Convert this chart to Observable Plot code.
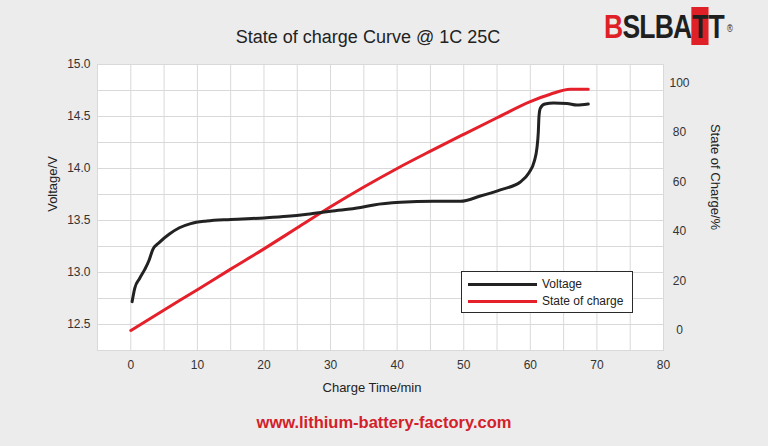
<!DOCTYPE html>
<html>
<head>
<meta charset="utf-8">
<script src="https://cdn.jsdelivr.net/npm/d3@7"></script>
<script src="https://cdn.jsdelivr.net/npm/@observablehq/plot@0.6"></script>
<style>
  html, body { margin: 0; padding: 0; background: #ececec; }
  #wrap { position: relative; width: 768px; height: 446px; overflow: hidden; background: #ececec;
          font-family: "Liberation Sans", Arial, sans-serif; color: #2a2a2a; }
  #chart { position: absolute; left: 0; top: 0; }
  .abs { position: absolute; white-space: nowrap; }
  #title { left: 368px; top: 37px; transform: translate(-50%, -50%); font-size: 18px; color: #222; }
  #xlab { left: 372px; top: 387px; transform: translate(-50%, -50%); font-size: 13px; color: #222; }
  #ylab { left: 52px; top: 184px; transform: translate(-50%, -50%) rotate(-90deg); font-size: 13px; color: #222; }
  #y2lab { left: 715px; top: 177px; transform: translate(-50%, -50%) rotate(90deg); font-size: 13px; color: #222; }
  #footer { left: 384px; top: 422px; transform: translate(-50%, -50%); font-size: 16.5px; font-weight: bold; color: #d42029; }
  #legend { left: 461px; top: 271px; width: 170px; height: 40px; background: #fff; border: 1.5px solid #2a2a2a; }
  .lg-line { position: absolute; left: 6px; width: 69px; height: 3px; }
  .lg-text { position: absolute; left: 80px; font-size: 12px; color: #222; line-height: 14px; }
  #logo { left: 604px; top: 8px; font-family: "Liberation Sans", Arial, sans-serif;
          font-weight: bold; font-size: 34px; line-height: 36px; letter-spacing: -1px; color: #1f1f1f;
          transform: scaleX(0.78); transform-origin: 0 0; }
  #logo .r { color: #e02027; }
  #logo .box { background: #e02027; color: #1f1f1f; padding: 0 1px; }
  #logo sup { font-size: 10px; font-weight: normal; vertical-align: top; position: relative; top: 3px; margin-left: 4px; }
</style>
</head>
<body>
<div id="wrap">
  <div id="chart"></div>
  <div id="title" class="abs">State of charge Curve @ 1C 25C</div>
  <div id="logo" class="abs"><span class="r">B</span>SLBA<span class="box">T</span>T<sup>®</sup></div>
  <div id="xlab" class="abs">Charge Time/min</div>
  <div id="ylab" class="abs">Voltage/V</div>
  <div id="y2lab" class="abs">State of Charge/%</div>
  <div id="legend" class="abs">
    <div class="lg-line" style="top:11px;background:#222;"></div>
    <div class="lg-text" style="top:5px;">Voltage</div>
    <div class="lg-line" style="top:28px;background:#e5202b;"></div>
    <div class="lg-text" style="top:22px;">State of charge</div>
  </div>
  <div id="footer" class="abs">www.lithium-battery-factory.com</div>
</div>
<script>
// ---- Data ----
const voltTime = [0.2, 0.6, 1.3, 2.1, 2.7, 3.3, 4.3, 5.8, 7.3, 9.0, 11.4, 15, 20, 23.5, 26.5, 30, 34.5, 36.5, 40.5, 45.5, 49.5, 52.5, 55.5, 58.5, 59.8, 60.6, 61.0, 61.2, 61.3, 61.5, 62.2, 63.5, 65.5, 67, 68.7];
const voltValue = [12.72, 12.85, 12.94, 13.03, 13.11, 13.22, 13.29, 13.37, 13.43, 13.47, 13.495, 13.51, 13.525, 13.54, 13.56, 13.59, 13.625, 13.65, 13.675, 13.685, 13.685, 13.735, 13.795, 13.87, 13.96, 14.07, 14.2, 14.35, 14.5, 14.58, 14.62, 14.63, 14.625, 14.61, 14.62];
const socTime = [0, 5, 10, 15, 20, 25, 30, 35, 40, 45, 50, 55, 60, 63, 66, 68.7];
const socValue = [0, 8.3, 16.5, 24.8, 33, 41.5, 50, 58, 65.5, 72.5, 79.3, 86, 92.5, 95.5, 97.5, 97.5];
const xTicks = [0, 10, 20, 30, 40, 50, 60, 70, 80];
const yTicks = [12.5, 13.0, 13.5, 14.0, 14.5, 15.0];
const socTicks = [0, 20, 40, 60, 80, 100];

// Right axis (SOC %) shares the plot with the voltage axis through a linear mapping
const socBase = 12.4423, socStep = 0.023788;
const socToV = s => socBase + socStep * s;
const vToSoc = v => (v - socBase) / socStep;

const voltData = voltTime.map((t, i) => ({t, v: voltValue[i]}));
const socData = socTime.map((t, i) => ({t, s: socValue[i]}));

const gridColor = "#d9d9d9";
const chart = Plot.plot({
  width: 768,
  height: 446,
  marginLeft: 97,
  marginRight: 105,
  marginTop: 64,
  marginBottom: 96,
  style: {background: "transparent", fontFamily: "'Liberation Sans', Arial, sans-serif", fontSize: "12px", color: "#333"},
  x: {domain: [-5, 80]},
  y: {domain: [12.25, 15]},
  marks: [
    Plot.frame({fill: "white", stroke: null}),
    Plot.gridX({ticks: d3.range(-5, 81, 5), stroke: gridColor, strokeOpacity: 1}),
    Plot.gridY({ticks: d3.range(12.25, 15.001, 0.25), stroke: gridColor, strokeOpacity: 1}),
    Plot.frame({stroke: gridColor}),
    Plot.axisX({ticks: xTicks, tickSize: 0, tickPadding: 10, label: null, fill: "#333"}),
    Plot.axisY({ticks: yTicks, tickFormat: d3.format(".1f"), tickSize: 0, tickPadding: 7, label: null, fill: "#333"}),
    Plot.axisY({anchor: "right", ticks: socTicks.map(socToV), tickFormat: v => String(Math.round(vToSoc(v))), tickSize: 0, tickPadding: 16, textAnchor: "middle", label: null, fill: "#333"}),
    Plot.line(socData, {x: "t", y: d => socToV(d.s), stroke: "#e5202b", strokeWidth: 3, curve: "monotone-x"}),
    Plot.line(voltData, {x: "t", y: "v", stroke: "#222", strokeWidth: 3, curve: "monotone-x"})
  ]
});
document.getElementById("chart").appendChild(chart);
</script>
</body>
</html>
